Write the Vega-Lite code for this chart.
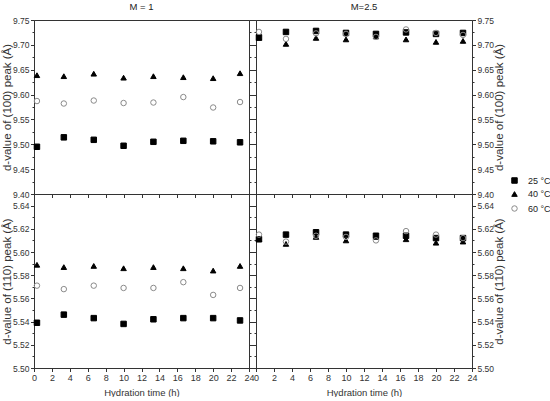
{
  "$schema": "https://vega.github.io/schema/vega-lite/v6.json",
  "padding": {"left": 0, "top": 1, "right": 0, "bottom": 0},
  "background": "white",
  "datasets": {
    "pts": [
      {"M": 1, "peak": "100", "t": 0.33, "temp": "25 °C", "d": 9.495},
      {"M": 1, "peak": "100", "t": 3.33, "temp": "25 °C", "d": 9.514},
      {"M": 1, "peak": "100", "t": 6.67, "temp": "25 °C", "d": 9.509},
      {"M": 1, "peak": "100", "t": 10, "temp": "25 °C", "d": 9.497},
      {"M": 1, "peak": "100", "t": 13.33, "temp": "25 °C", "d": 9.505},
      {"M": 1, "peak": "100", "t": 16.67, "temp": "25 °C", "d": 9.507},
      {"M": 1, "peak": "100", "t": 20, "temp": "25 °C", "d": 9.506},
      {"M": 1, "peak": "100", "t": 23, "temp": "25 °C", "d": 9.504},
      {"M": 1, "peak": "100", "t": 0.33, "temp": "40 °C", "d": 9.639},
      {"M": 1, "peak": "100", "t": 3.33, "temp": "40 °C", "d": 9.637},
      {"M": 1, "peak": "100", "t": 6.67, "temp": "40 °C", "d": 9.642},
      {"M": 1, "peak": "100", "t": 10, "temp": "40 °C", "d": 9.634},
      {"M": 1, "peak": "100", "t": 13.33, "temp": "40 °C", "d": 9.637},
      {"M": 1, "peak": "100", "t": 16.67, "temp": "40 °C", "d": 9.635},
      {"M": 1, "peak": "100", "t": 20, "temp": "40 °C", "d": 9.633},
      {"M": 1, "peak": "100", "t": 23, "temp": "40 °C", "d": 9.643},
      {"M": 1, "peak": "100", "t": 0.33, "temp": "60 °C", "d": 9.587},
      {"M": 1, "peak": "100", "t": 3.33, "temp": "60 °C", "d": 9.582},
      {"M": 1, "peak": "100", "t": 6.67, "temp": "60 °C", "d": 9.588},
      {"M": 1, "peak": "100", "t": 10, "temp": "60 °C", "d": 9.583},
      {"M": 1, "peak": "100", "t": 13.33, "temp": "60 °C", "d": 9.584},
      {"M": 1, "peak": "100", "t": 16.67, "temp": "60 °C", "d": 9.595},
      {"M": 1, "peak": "100", "t": 20, "temp": "60 °C", "d": 9.574},
      {"M": 1, "peak": "100", "t": 23, "temp": "60 °C", "d": 9.585},
      {"M": 2.5, "peak": "100", "t": 0.33, "temp": "25 °C", "d": 9.715},
      {"M": 2.5, "peak": "100", "t": 3.33, "temp": "25 °C", "d": 9.726},
      {"M": 2.5, "peak": "100", "t": 6.67, "temp": "25 °C", "d": 9.728},
      {"M": 2.5, "peak": "100", "t": 10, "temp": "25 °C", "d": 9.724},
      {"M": 2.5, "peak": "100", "t": 13.33, "temp": "25 °C", "d": 9.722},
      {"M": 2.5, "peak": "100", "t": 16.67, "temp": "25 °C", "d": 9.725},
      {"M": 2.5, "peak": "100", "t": 20, "temp": "25 °C", "d": 9.722},
      {"M": 2.5, "peak": "100", "t": 23, "temp": "25 °C", "d": 9.724},
      {"M": 2.5, "peak": "100", "t": 0.33, "temp": "40 °C", "d": 9.714},
      {"M": 2.5, "peak": "100", "t": 3.33, "temp": "40 °C", "d": 9.702},
      {"M": 2.5, "peak": "100", "t": 6.67, "temp": "40 °C", "d": 9.714},
      {"M": 2.5, "peak": "100", "t": 10, "temp": "40 °C", "d": 9.711},
      {"M": 2.5, "peak": "100", "t": 13.33, "temp": "40 °C", "d": 9.717},
      {"M": 2.5, "peak": "100", "t": 16.67, "temp": "40 °C", "d": 9.711},
      {"M": 2.5, "peak": "100", "t": 20, "temp": "40 °C", "d": 9.706},
      {"M": 2.5, "peak": "100", "t": 23, "temp": "40 °C", "d": 9.708},
      {"M": 2.5, "peak": "100", "t": 0.33, "temp": "60 °C", "d": 9.726},
      {"M": 2.5, "peak": "100", "t": 3.33, "temp": "60 °C", "d": 9.712},
      {"M": 2.5, "peak": "100", "t": 6.67, "temp": "60 °C", "d": 9.723},
      {"M": 2.5, "peak": "100", "t": 10, "temp": "60 °C", "d": 9.722},
      {"M": 2.5, "peak": "100", "t": 13.33, "temp": "60 °C", "d": 9.716},
      {"M": 2.5, "peak": "100", "t": 16.67, "temp": "60 °C", "d": 9.731},
      {"M": 2.5, "peak": "100", "t": 20, "temp": "60 °C", "d": 9.724},
      {"M": 2.5, "peak": "100", "t": 23, "temp": "60 °C", "d": 9.720},
      {"M": 1, "peak": "110", "t": 0.33, "temp": "25 °C", "d": 5.539},
      {"M": 1, "peak": "110", "t": 3.33, "temp": "25 °C", "d": 5.546},
      {"M": 1, "peak": "110", "t": 6.67, "temp": "25 °C", "d": 5.543},
      {"M": 1, "peak": "110", "t": 10, "temp": "25 °C", "d": 5.538},
      {"M": 1, "peak": "110", "t": 13.33, "temp": "25 °C", "d": 5.542},
      {"M": 1, "peak": "110", "t": 16.67, "temp": "25 °C", "d": 5.543},
      {"M": 1, "peak": "110", "t": 20, "temp": "25 °C", "d": 5.543},
      {"M": 1, "peak": "110", "t": 23, "temp": "25 °C", "d": 5.541},
      {"M": 1, "peak": "110", "t": 0.33, "temp": "40 °C", "d": 5.589},
      {"M": 1, "peak": "110", "t": 3.33, "temp": "40 °C", "d": 5.587},
      {"M": 1, "peak": "110", "t": 6.67, "temp": "40 °C", "d": 5.588},
      {"M": 1, "peak": "110", "t": 10, "temp": "40 °C", "d": 5.586},
      {"M": 1, "peak": "110", "t": 13.33, "temp": "40 °C", "d": 5.587},
      {"M": 1, "peak": "110", "t": 16.67, "temp": "40 °C", "d": 5.586},
      {"M": 1, "peak": "110", "t": 20, "temp": "40 °C", "d": 5.584},
      {"M": 1, "peak": "110", "t": 23, "temp": "40 °C", "d": 5.588},
      {"M": 1, "peak": "110", "t": 0.33, "temp": "60 °C", "d": 5.571},
      {"M": 1, "peak": "110", "t": 3.33, "temp": "60 °C", "d": 5.568},
      {"M": 1, "peak": "110", "t": 6.67, "temp": "60 °C", "d": 5.571},
      {"M": 1, "peak": "110", "t": 10, "temp": "60 °C", "d": 5.569},
      {"M": 1, "peak": "110", "t": 13.33, "temp": "60 °C", "d": 5.569},
      {"M": 1, "peak": "110", "t": 16.67, "temp": "60 °C", "d": 5.574},
      {"M": 1, "peak": "110", "t": 20, "temp": "60 °C", "d": 5.563},
      {"M": 1, "peak": "110", "t": 23, "temp": "60 °C", "d": 5.569},
      {"M": 2.5, "peak": "110", "t": 0.33, "temp": "25 °C", "d": 5.611},
      {"M": 2.5, "peak": "110", "t": 3.33, "temp": "25 °C", "d": 5.615},
      {"M": 2.5, "peak": "110", "t": 6.67, "temp": "25 °C", "d": 5.617},
      {"M": 2.5, "peak": "110", "t": 10, "temp": "25 °C", "d": 5.615},
      {"M": 2.5, "peak": "110", "t": 13.33, "temp": "25 °C", "d": 5.614},
      {"M": 2.5, "peak": "110", "t": 16.67, "temp": "25 °C", "d": 5.614},
      {"M": 2.5, "peak": "110", "t": 20, "temp": "25 °C", "d": 5.612},
      {"M": 2.5, "peak": "110", "t": 23, "temp": "25 °C", "d": 5.612},
      {"M": 2.5, "peak": "110", "t": 0.33, "temp": "40 °C", "d": 5.611},
      {"M": 2.5, "peak": "110", "t": 3.33, "temp": "40 °C", "d": 5.607},
      {"M": 2.5, "peak": "110", "t": 6.67, "temp": "40 °C", "d": 5.613},
      {"M": 2.5, "peak": "110", "t": 10, "temp": "40 °C", "d": 5.610},
      {"M": 2.5, "peak": "110", "t": 13.33, "temp": "40 °C", "d": 5.613},
      {"M": 2.5, "peak": "110", "t": 16.67, "temp": "40 °C", "d": 5.611},
      {"M": 2.5, "peak": "110", "t": 20, "temp": "40 °C", "d": 5.608},
      {"M": 2.5, "peak": "110", "t": 23, "temp": "40 °C", "d": 5.609},
      {"M": 2.5, "peak": "110", "t": 0.33, "temp": "60 °C", "d": 5.615},
      {"M": 2.5, "peak": "110", "t": 3.33, "temp": "60 °C", "d": 5.609},
      {"M": 2.5, "peak": "110", "t": 6.67, "temp": "60 °C", "d": 5.614},
      {"M": 2.5, "peak": "110", "t": 10, "temp": "60 °C", "d": 5.613},
      {"M": 2.5, "peak": "110", "t": 13.33, "temp": "60 °C", "d": 5.610},
      {"M": 2.5, "peak": "110", "t": 16.67, "temp": "60 °C", "d": 5.618},
      {"M": 2.5, "peak": "110", "t": 20, "temp": "60 °C", "d": 5.615},
      {"M": 2.5, "peak": "110", "t": 23, "temp": "60 °C", "d": 5.612}
    ]
  },
  "data": {"name": "pts"},
  "columns": 2,
  "spacing": {"row": 0, "column": 7},
  "bounds": "flush",
  "concat": [
    {
      "width": 215, "height": 174,
      "title": {"text": "M = 1"},
      "transform": [{"filter": "datum.M == 1 && datum.peak == '100'"}],
      "layer": [
        {
          "mark": {"type": "point", "opacity": 1, "strokeWidth": 1, "size": 30},
          "encoding": {
            "x": {"field": "t", "type": "quantitative", "scale": {"domain": [0, 24], "nice": false}, "axis": {"orient": "bottom", "values": [0,2,4,6,8,10,12,14,16,18,20,22,24], "labels": false, "title": null, "tickSize": 3.5}},
            "y": {"field": "d", "type": "quantitative", "scale": {"domain": [9.4, 9.75], "nice": false, "zero": false}, "axis": {"orient": "left", "values": [9.4,9.425,9.45,9.475,9.5,9.525,9.55,9.575,9.6,9.625,9.65,9.675,9.7,9.725,9.75], "labelExpr": "abs(datum.value*20-round(datum.value*20))<0.01 ? format(datum.value,'.2f') : ''", "tickSize": {"condition": {"test": "abs(datum.value*20-round(datum.value*20))<0.01", "value": 3.5}, "value": 2}, "title": "d-value of (100) peak (Å)"}},
            "shape": {"field": "temp", "type": "nominal", "title": null, "scale": {"domain": ["25 °C", "40 °C", "60 °C"], "range": ["square", "triangle-up", "circle"]}, "legend": {"orient": "none", "legendX": 476, "legendY": 156}},
            "fill": {"field": "temp", "type": "nominal", "title": null, "scale": {"domain": ["25 °C", "40 °C", "60 °C"], "range": ["#000000", "#000000", "transparent"]}, "legend": {"orient": "none", "legendX": 476, "legendY": 156}},
            "stroke": {"field": "temp", "type": "nominal", "title": null, "scale": {"domain": ["25 °C", "40 °C", "60 °C"], "range": ["#000000", "#000000", "#8a8a8a"]}, "legend": {"orient": "none", "legendX": 476, "legendY": 156}}
          }
        },
        {
          "mark": {"type": "point", "opacity": 0},
          "encoding": {
            "x": {"field": "t", "type": "quantitative", "scale": {"domain": [0, 24], "nice": false}, "axis": null},
            "y": {"field": "d", "type": "quantitative", "scale": {"domain": [9.4, 9.75], "nice": false, "zero": false}, "axis": {"orient": "right", "values": [9.4,9.425,9.45,9.475,9.5,9.525,9.55,9.575,9.6,9.625,9.65,9.675,9.7,9.725,9.75], "labels": false, "title": null, "tickSize": {"condition": {"test": "abs(datum.value*20-round(datum.value*20))<0.01", "value": 3.5}, "value": 2}}}
          }
        }
      ],
      "resolve": {"axis": {"x": "independent", "y": "independent"}}
    },
    {
      "width": 216, "height": 174,
      "title": {"text": "M=2.5"},
      "transform": [{"filter": "datum.M == 2.5 && datum.peak == '100'"}],
      "layer": [
        {
          "mark": {"type": "point", "opacity": 1, "strokeWidth": 1, "size": 30},
          "encoding": {
            "x": {"field": "t", "type": "quantitative", "scale": {"domain": [0, 24], "nice": false}, "axis": {"orient": "bottom", "values": [0,2,4,6,8,10,12,14,16,18,20,22,24], "labels": false, "title": null, "tickSize": 3.5}},
            "y": {"field": "d", "type": "quantitative", "scale": {"domain": [9.4, 9.75], "nice": false, "zero": false}, "axis": {"orient": "right", "values": [9.4,9.425,9.45,9.475,9.5,9.525,9.55,9.575,9.6,9.625,9.65,9.675,9.7,9.725,9.75], "labelExpr": "abs(datum.value*20-round(datum.value*20))<0.01 ? format(datum.value,'.2f') : ''", "tickSize": {"condition": {"test": "abs(datum.value*20-round(datum.value*20))<0.01", "value": 3.5}, "value": 2}, "title": "d-value of (100) peak (Å)", "titleAngle": 270, "titleBaseline": "top"}},
            "shape": {"field": "temp", "type": "nominal", "title": null, "scale": {"domain": ["25 °C", "40 °C", "60 °C"], "range": ["square", "triangle-up", "circle"]}, "legend": {"orient": "none", "legendX": 476, "legendY": 156}},
            "fill": {"field": "temp", "type": "nominal", "title": null, "scale": {"domain": ["25 °C", "40 °C", "60 °C"], "range": ["#000000", "#000000", "transparent"]}, "legend": {"orient": "none", "legendX": 476, "legendY": 156}},
            "stroke": {"field": "temp", "type": "nominal", "title": null, "scale": {"domain": ["25 °C", "40 °C", "60 °C"], "range": ["#000000", "#000000", "#8a8a8a"]}, "legend": {"orient": "none", "legendX": 476, "legendY": 156}}
          }
        },
        {
          "mark": {"type": "point", "opacity": 0},
          "encoding": {
            "x": {"field": "t", "type": "quantitative", "scale": {"domain": [0, 24], "nice": false}, "axis": null},
            "y": {"field": "d", "type": "quantitative", "scale": {"domain": [9.4, 9.75], "nice": false, "zero": false}, "axis": {"orient": "left", "values": [9.4,9.425,9.45,9.475,9.5,9.525,9.55,9.575,9.6,9.625,9.65,9.675,9.7,9.725,9.75], "labels": false, "title": null, "tickSize": {"condition": {"test": "abs(datum.value*20-round(datum.value*20))<0.01", "value": 3.5}, "value": 2}}}
          }
        }
      ],
      "resolve": {"axis": {"x": "independent", "y": "independent"}}
    },
    {
      "width": 215, "height": 174,
      "transform": [{"filter": "datum.M == 1 && datum.peak == '110'"}],
      "layer": [
        {
          "mark": {"type": "point", "opacity": 1, "strokeWidth": 1, "size": 30},
          "encoding": {
            "x": {"field": "t", "type": "quantitative", "scale": {"domain": [0, 24], "nice": false}, "axis": {"orient": "bottom", "values": [0,2,4,6,8,10,12,14,16,18,20,22,24], "title": "Hydration time (h)", "tickSize": 3.5}},
            "y": {"field": "d", "type": "quantitative", "scale": {"domain": [5.5, 5.65], "nice": false, "zero": false}, "axis": {"orient": "left", "values": [5.5,5.51,5.52,5.53,5.54,5.55,5.56,5.57,5.58,5.59,5.6,5.61,5.62,5.63,5.64], "labelExpr": "abs(datum.value*50-round(datum.value*50))<0.01 ? format(datum.value,'.2f') : ''", "tickSize": {"condition": {"test": "abs(datum.value*50-round(datum.value*50))<0.01", "value": 3.5}, "value": 2}, "title": "d-value of (110) peak (Å)"}},
            "shape": {"field": "temp", "type": "nominal", "title": null, "scale": {"domain": ["25 °C", "40 °C", "60 °C"], "range": ["square", "triangle-up", "circle"]}, "legend": {"orient": "none", "legendX": 476, "legendY": 156}},
            "fill": {"field": "temp", "type": "nominal", "title": null, "scale": {"domain": ["25 °C", "40 °C", "60 °C"], "range": ["#000000", "#000000", "transparent"]}, "legend": {"orient": "none", "legendX": 476, "legendY": 156}},
            "stroke": {"field": "temp", "type": "nominal", "title": null, "scale": {"domain": ["25 °C", "40 °C", "60 °C"], "range": ["#000000", "#000000", "#8a8a8a"]}, "legend": {"orient": "none", "legendX": 476, "legendY": 156}}
          }
        },
        {
          "mark": {"type": "point", "opacity": 0},
          "encoding": {
            "x": {"field": "t", "type": "quantitative", "scale": {"domain": [0, 24], "nice": false}, "axis": null},
            "y": {"field": "d", "type": "quantitative", "scale": {"domain": [5.5, 5.65], "nice": false, "zero": false}, "axis": {"orient": "right", "values": [5.5,5.51,5.52,5.53,5.54,5.55,5.56,5.57,5.58,5.59,5.6,5.61,5.62,5.63,5.64], "labels": false, "title": null, "tickSize": {"condition": {"test": "abs(datum.value*50-round(datum.value*50))<0.01", "value": 3.5}, "value": 2}}}
          }
        }
      ],
      "resolve": {"axis": {"x": "independent", "y": "independent"}}
    },
    {
      "width": 216, "height": 174,
      "transform": [{"filter": "datum.M == 2.5 && datum.peak == '110'"}],
      "layer": [
        {
          "mark": {"type": "point", "opacity": 1, "strokeWidth": 1, "size": 30},
          "encoding": {
            "x": {"field": "t", "type": "quantitative", "scale": {"domain": [0, 24], "nice": false}, "axis": {"orient": "bottom", "values": [0,2,4,6,8,10,12,14,16,18,20,22,24], "title": "Hydration time (h)", "tickSize": 3.5}},
            "y": {"field": "d", "type": "quantitative", "scale": {"domain": [5.5, 5.65], "nice": false, "zero": false}, "axis": {"orient": "right", "values": [5.5,5.51,5.52,5.53,5.54,5.55,5.56,5.57,5.58,5.59,5.6,5.61,5.62,5.63,5.64], "labelExpr": "abs(datum.value*50-round(datum.value*50))<0.01 ? format(datum.value,'.2f') : ''", "tickSize": {"condition": {"test": "abs(datum.value*50-round(datum.value*50))<0.01", "value": 3.5}, "value": 2}, "title": "d-value of (110) peak (Å)", "titleAngle": 270, "titleBaseline": "top"}},
            "shape": {"field": "temp", "type": "nominal", "title": null, "scale": {"domain": ["25 °C", "40 °C", "60 °C"], "range": ["square", "triangle-up", "circle"]}, "legend": {"orient": "none", "legendX": 476, "legendY": 156}},
            "fill": {"field": "temp", "type": "nominal", "title": null, "scale": {"domain": ["25 °C", "40 °C", "60 °C"], "range": ["#000000", "#000000", "transparent"]}, "legend": {"orient": "none", "legendX": 476, "legendY": 156}},
            "stroke": {"field": "temp", "type": "nominal", "title": null, "scale": {"domain": ["25 °C", "40 °C", "60 °C"], "range": ["#000000", "#000000", "#8a8a8a"]}, "legend": {"orient": "none", "legendX": 476, "legendY": 156}}
          }
        },
        {
          "mark": {"type": "point", "opacity": 0},
          "encoding": {
            "x": {"field": "t", "type": "quantitative", "scale": {"domain": [0, 24], "nice": false}, "axis": null},
            "y": {"field": "d", "type": "quantitative", "scale": {"domain": [5.5, 5.65], "nice": false, "zero": false}, "axis": {"orient": "left", "values": [5.5,5.51,5.52,5.53,5.54,5.55,5.56,5.57,5.58,5.59,5.6,5.61,5.62,5.63,5.64], "labels": false, "title": null, "tickSize": {"condition": {"test": "abs(datum.value*50-round(datum.value*50))<0.01", "value": 3.5}, "value": 2}}}
          }
        }
      ],
      "resolve": {"axis": {"x": "independent", "y": "independent"}}
    }
  ],
  "config": {
    "view": {"stroke": "#333333", "strokeWidth": 1},
    "title": {"font": "Liberation Sans, Arial, sans-serif", "fontSize": 9.5, "fontWeight": "normal", "color": "#222222", "offset": 5, "frame": "group"},
    "axis": {
      "grid": false,
      "domainColor": "#333333",
      "tickColor": "#333333",
      "labelColor": "#333333",
      "titleColor": "#333333",
      "labelFont": "Liberation Sans, Arial, sans-serif",
      "labelFontSize": 8.5,
      "labelPadding": 1.5,
      "labelOverlap": false,
      "labelBound": false,
      "labelFlush": false,
      "titleFontWeight": "normal"
    },
    "axisX": {"titleFont": "Liberation Sans, Arial, sans-serif", "titleFontSize": 9.5, "titlePadding": 5, "labelPadding": 1.5, "labelFontSize": 9},
    "axisY": {"titleFont": "Liberation Sans, Arial, sans-serif", "titleFontSize": 11.5, "titlePadding": 0},
    "legend": {
      "labelFont": "Liberation Sans, Arial, sans-serif",
      "labelFontSize": 9,
      "labelColor": "#222222",
      "symbolSize": 30,
      "symbolStrokeWidth": 1,
      "rowPadding": 3.5,
      "labelOffset": 9
    }
  }
}
